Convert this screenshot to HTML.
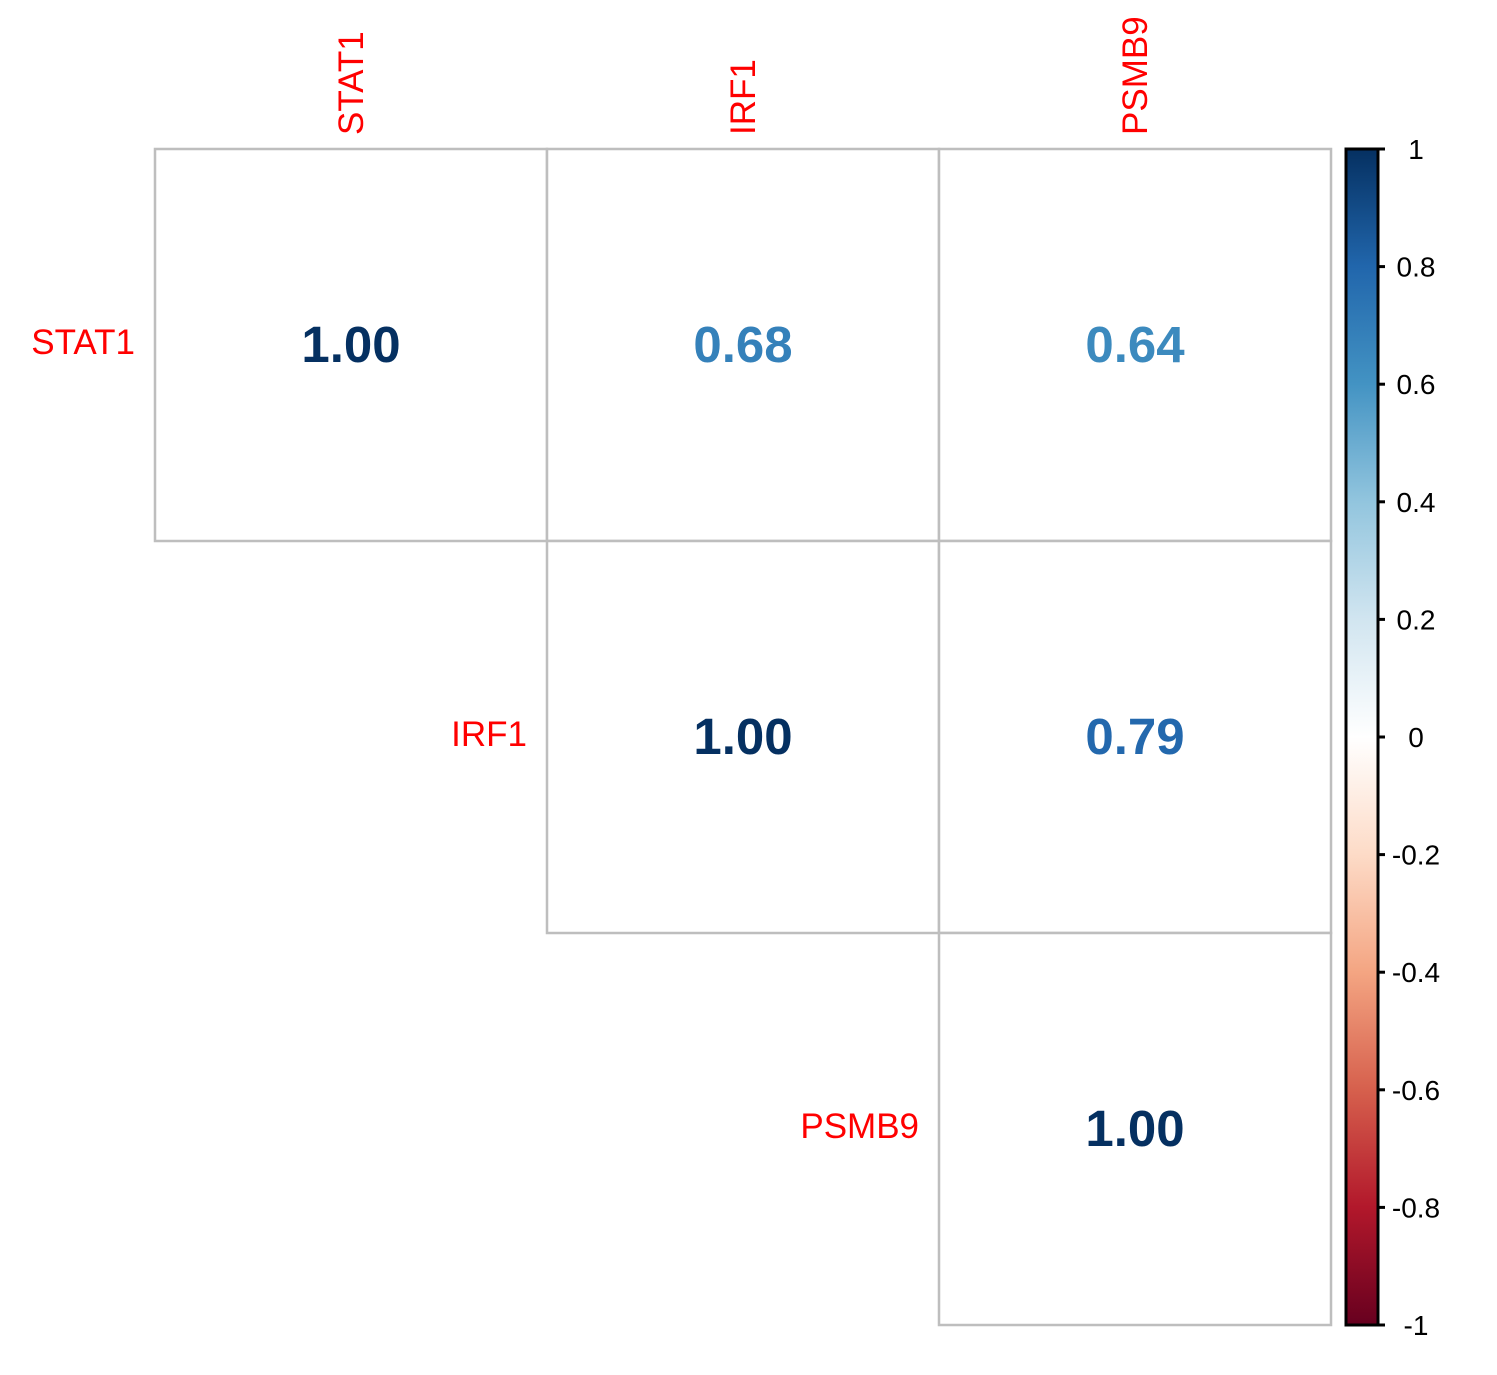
<!DOCTYPE html>
<html><head><meta charset="utf-8"><style>
html,body{margin:0;padding:0;background:#fff;}
svg{display:block;font-family:"Liberation Sans",Arial,sans-serif;}
</style></head><body>
<svg id="chart" width="1497" height="1375" viewBox="0 0 1497 1375">
<defs>
<linearGradient id="rdbu" x1="0" y1="1" x2="0" y2="0">
<stop offset="0" stop-color="#67001F"/><stop offset="0.1" stop-color="#B2182B"/><stop offset="0.2" stop-color="#D6604D"/><stop offset="0.3" stop-color="#F4A582"/><stop offset="0.4" stop-color="#FDDBC7"/><stop offset="0.5" stop-color="#FFFFFF"/><stop offset="0.6" stop-color="#D1E5F0"/><stop offset="0.7" stop-color="#92C5DE"/><stop offset="0.8" stop-color="#4393C3"/><stop offset="0.9" stop-color="#2166AC"/><stop offset="1" stop-color="#053061"/>
</linearGradient>
</defs>
<g id="cells"></g>
<g id="labels"></g>
<g id="legend"></g>
</svg>
<script>
const genes = ["STAT1","IRF1","PSMB9"];
const corrRow0 = [1.00, 0.68, 0.64];
const corrRow1 = [null, 1.00, 0.79];
const corrRow2 = [null, null, 1.00];
const legendTicks = [1,0.8,0.6,0.4,0.2,0,-0.2,-0.4,-0.6,-0.8,-1];
const legendTickLabels = ["1","0.8","0.6","0.4","0.2","0","-0.2","-0.4","-0.6","-0.8","-1"];

const NS="http://www.w3.org/2000/svg";
const x0=155, y0=149, cell=392;
const colX=i=>x0+i*cell, rowY=i=>y0+i*cell;
const palette=["#67001F","#B2182B","#D6604D","#F4A582","#FDDBC7","#FFFFFF","#D1E5F0","#92C5DE","#4393C3","#2166AC","#053061"];
function colorOf(v){
  const t=(v+1)/2*10, i=Math.min(9,Math.floor(t)), f=t-i;
  const a=palette[i], b=palette[i+1];
  const c=k=>Math.round(parseInt(a.substr(k,2),16)*(1-f)+parseInt(b.substr(k,2),16)*f);
  return `rgb(${c(1)},${c(3)},${c(5)})`;
}
function mk(tag,attrs,parent,text){
  const e=document.createElementNS(NS,tag);
  for(const k in attrs)e.setAttribute(k,attrs[k]);
  if(text!==undefined)e.textContent=text;
  parent.appendChild(e);return e;
}
const cells=document.getElementById('cells'), labels=document.getElementById('labels'), legend=document.getElementById('legend');
const rows=[corrRow0,corrRow1,corrRow2];
rows.forEach((row,r)=>{
  row.forEach((v,c)=>{
    if(v===null)return;
    const rect=mk('rect',{x:colX(c),y:rowY(r),width:cell,height:cell,fill:'#fff',stroke:'#BEBEBE','stroke-width':2.5},cells);
    
    
    const t=mk('text',{x:colX(c)+cell/2,y:rowY(r)+cell/2+17,'text-anchor':'middle','font-size':51,'font-weight':'bold',fill:colorOf(v)},cells,v.toFixed(2));
    
    
  });
});
genes.forEach((g,i)=>{
  const cx=colX(i)+cell/2+12;
  const t=mk('text',{x:cx,y:135,transform:`rotate(-90 ${cx} 135)`,'font-size':35,fill:'#FF0000'},labels,g);
  
  
  const r=mk('text',{x:colX(i)-20,y:rowY(i)+cell/2+9,'text-anchor':'end','font-size':35,fill:'#FF0000'},labels,g);
  
  
});
const lx=1346,lw=32,ly0=149,ly1=1325;
const ly=v=>ly1-(v+1)/2*(ly1-ly0);
const bar=mk('rect',{x:lx,y:ly0,width:lw,height:ly1-ly0,fill:'url(#rdbu)',stroke:'#000','stroke-width':3},legend);


legendTicks.forEach((v,i)=>{
  const tk=mk('line',{x1:lx+lw,x2:lx+lw+7,y1:ly(v),y2:ly(v),stroke:'#000','stroke-width':3},legend);
  
  
  const t=mk('text',{x:1416,y:ly(v)+10,'text-anchor':'middle','font-size':28,fill:'#000'},legend,legendTickLabels[i]);
  
  
});
</script>
</body></html>
